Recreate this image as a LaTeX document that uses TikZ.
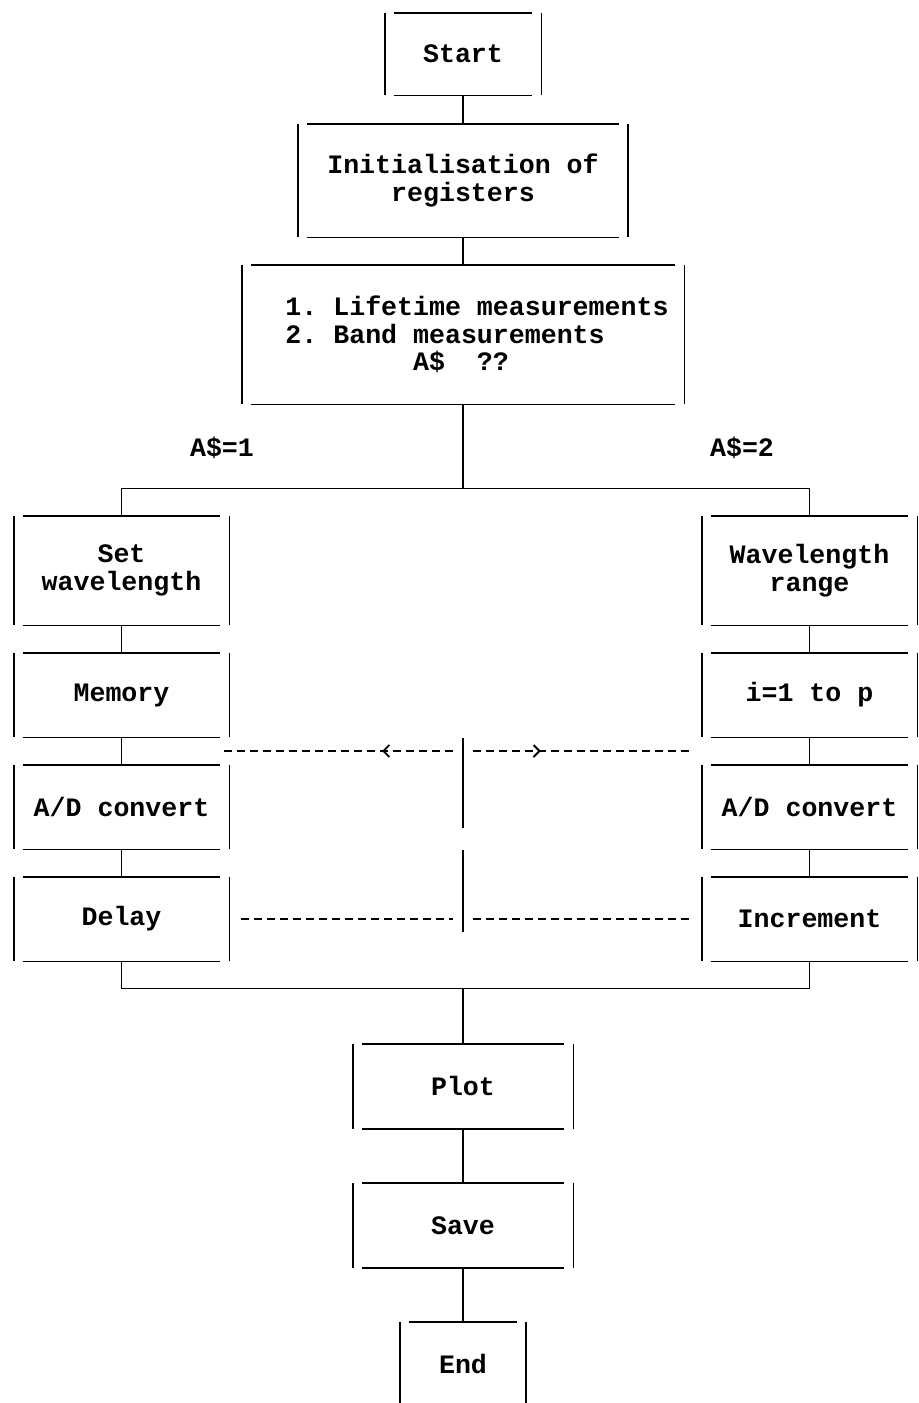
\documentclass[tikz,border=0pt]{standalone}
\usepackage{fontspec}
\newfontfamily\twfamily{Liberation Mono}
\newcommand\twfont{\twfamily\bfseries\fontsize{13.3pt}{13.75pt}\selectfont}
\frenchspacing
\usetikzlibrary{positioning, calc, arrows.meta, decorations.markings}

\begin{document}
\begin{tikzpicture}[node distance = 60pt, on grid,
  tline/.style = {line width = 0.9pt},
  dline/.style = {tline, dash pattern = on 4pt off 2.5pt},
  backflow/.style = {dline, postaction = {decorate},
    decoration = {markings, mark = at position 0.31 with {\arrow{Straight Barb[length=3pt,width=6pt]}}}},
  tbox/.style = {inner sep = 3pt, align = center, font = \twfont,
    append after command = {\pgfextra{\let\tbxnode\tikzlastnode}
      ([xshift=4.5pt]\tbxnode.north west) edge [tline] ([xshift=-4.5pt]\tbxnode.north east)
      ([xshift=4.5pt]\tbxnode.south west) edge [tline] ([xshift=-4.5pt]\tbxnode.south east)
      (\tbxnode.north west) edge [tline] (\tbxnode.south west)
      (\tbxnode.north east) edge [tline] (\tbxnode.south east)}},
  side/.style = {tbox, minimum width = 107.5pt, minimum height = 42pt},
  cond/.style = {font = \twfont}]

\useasboundingbox (0,0) rectangle (459.5pt,-701.5pt);

\node (start) [tbox, minimum width = 78pt, minimum height = 41pt] at (231.5pt,-27pt) {Start};
\node (init) [tbox, minimum width = 164.5pt, minimum height = 56.5pt, below = 63.25pt of start] {Initialisation of\\registers};
\node (opt) [tbox, minimum width = 221pt, minimum height = 69.5pt, align = left, below = 77pt of init]
  {\hspace*{14pt}1. Lifetime measurements\\\hspace*{14pt}2. Band measurements\\\hspace*{14pt}\phantom{12345678}A\$\phantom{12}??};
\coordinate [below = 42pt of opt.south] (split);

\node (a1) [cond] at ($(split)+(-120.5pt,20.5pt)$) {A\$=1};
\node (a2) [cond] at ($(split)+(139.5pt,20.5pt)$) {A\$=2};

% left branch
\node (set) [side, minimum height = 54.5pt, below left = 118pt and 170.75pt of opt] {Set\\wavelength};
\node (mem) [side, below = 62.25pt of set] {Memory};
\node (adl) [side, below = 56pt of mem] {A/D convert};
\node (del) [side, below = 56pt of adl] {Delay};

% right branch
\node (rng) [side, minimum height = 54.5pt, below right = 118pt and 173.25pt of opt] {Wavelength\\range};
\node (cnt) [side, below = 62.25pt of rng] {i=1 to p};
\node (adr) [side, below = 56pt of cnt] {A/D convert};
\node (inc) [side, below = 56pt of adr] {Increment};

\coordinate (m0) at (split |- del.south);
\coordinate [below = 13.5pt of m0] (merge);

\node (plot) [tbox, minimum width = 110pt, minimum height = 42pt] at ($(merge)+(0,-49pt)$) {Plot};
\node (save) [tbox, minimum width = 110pt, minimum height = 42pt, below = 69.5pt of plot] {Save};
\node (end) [tbox, minimum width = 62.5pt, minimum height = 42pt, below = 69.5pt of save] {End};

\path [tline]
  (start) edge (init)
  (init) edge (opt)
  (set) edge (mem)
  (mem) edge (adl)
  (adl) edge (del)
  (rng) edge (cnt)
  (cnt) edge (adr)
  (adr) edge (inc)
  (plot) edge (save)
  (save) edge (end);

\draw [tline] (opt) -- (split) -| (set);
\draw [tline] (split) -| (rng);
\draw [tline] (del) |- (merge) -| (inc);
\draw [tline] (merge) -- (plot);

% loop back
\coordinate (gapL) at ($(mem.south)!.5!(adl.north)$);
\coordinate (backL) at (adl.east |- gapL);
\coordinate (backR) at (adr.west |- gapL);
\coordinate (loopT) at (split |- gapL);
\coordinate (loopB) at (split |- del.east);

\draw [tline] ([yshift=6.5pt]loopT) -- ++(0,-45pt);
\draw [tline] ([yshift=-6.5pt]loopB) -- ++(0,41pt);
\draw [backflow] ([xshift=-5pt]loopT) -- ([xshift=-2.5pt]backL);
\draw [backflow] ([xshift=5pt]loopT) -- ([xshift=-5pt]backR);
\draw [dline] ([xshift=6pt]del.east) -- ([xshift=-5pt]loopB);
\draw [dline] ([xshift=5pt]loopB) -- ([xshift=-6pt]inc.west);
\end{tikzpicture}
\end{document}
